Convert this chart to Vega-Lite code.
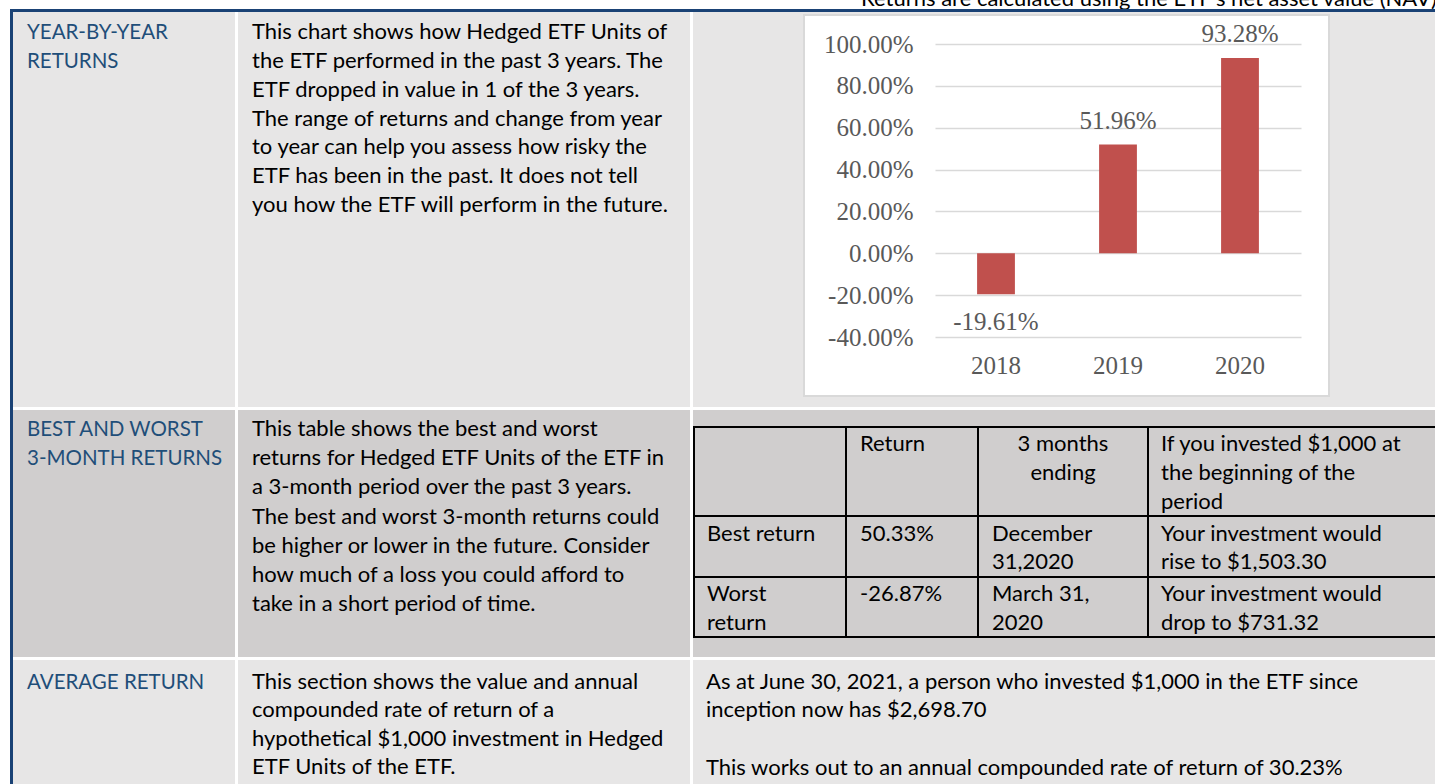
{
  "$schema": "https://vega.github.io/schema/vega-lite/v6.json",
  "background": "white",
  "padding": {"left": 10, "top": 0, "right": 0, "bottom": 0},
  "config": {"view": {"stroke": null}, "text": {"font": "Lato"}},
  "datasets": {
    "doc": [
      {"part": "note", "text": "Returns are calculated using the ETF's net asset value (NAV)"},
      {"part": "r1c1", "text": "YEAR-BY-YEAR\nRETURNS"},
      {"part": "r1c2", "text": "This chart shows how Hedged ETF Units of\nthe ETF performed in the past 3 years. The\nETF dropped in value in 1 of the 3 years.\nThe range of returns and change from year\nto year can help you assess how risky the\nETF has been in the past. It does not tell\nyou how the ETF will perform in the future."},
      {"part": "r2c1", "text": "BEST AND WORST\n3-MONTH RETURNS"},
      {"part": "r2c2", "text": "This table shows the best and worst\nreturns for Hedged ETF Units of the ETF in\na 3-month period over the past 3 years.\nThe best and worst 3-month returns could\nbe higher or lower in the future. Consider\nhow much of a loss you could afford to\ntake in a short period of time."},
      {"part": "r3c1", "text": "AVERAGE RETURN"},
      {"part": "r3c2", "text": "This section shows the value and annual\ncompounded rate of return of a\nhypothetical $1,000 investment in Hedged\nETF Units of the ETF."},
      {"part": "r3c3a", "text": "As at June 30, 2021, a person who invested $1,000 in the ETF since\ninception now has $2,698.70"},
      {"part": "r3c3b", "text": "This works out to an annual compounded rate of return of 30.23%"},
      {"part": "t_h1", "text": " "},
      {"part": "t_h2", "text": "Return"},
      {"part": "t_h3", "text": "3 months\nending"},
      {"part": "t_h4", "text": "If you invested $1,000 at\nthe beginning of the\nperiod"},
      {"part": "t_b1", "text": "Best return"},
      {"part": "t_b2", "text": "50.33%"},
      {"part": "t_b3", "text": "December\n31,2020"},
      {"part": "t_b4", "text": "Your investment would\nrise to $1,503.30"},
      {"part": "t_w1", "text": "Worst\nreturn"},
      {"part": "t_w2", "text": "-26.87%"},
      {"part": "t_w3", "text": "March 31,\n2020"},
      {"part": "t_w4", "text": "Your investment would\ndrop to $731.32"}
    ],
    "returns": [
      {"year": "2018", "ret": -19.61, "label": "-19.61%"},
      {"year": "2019", "ret": 51.96, "label": "51.96%"},
      {"year": "2020", "ret": 93.28, "label": "93.28%"}
    ]
  },
  "spacing": 0,
  "vconcat": [
    {"width": 1425, "height": 9, "data": {"name": "doc"}, "transform": [{"filter": "datum.part === 'note'"}],
     "mark": {"type": "text", "align": "right", "baseline": "alphabetic", "fontSize": 22, "color": "#000000", "clip": true},
     "encoding": {"x": {"value": 1427}, "y": {"value": 5.5}, "text": {"field": "text"}}},
    {"width": 1425, "height": 3, "view": {"fill": "#1a4275"}, "data": {"values": [{}]}, "mark": {"type": "text", "clip": true}, "encoding": {"text": {"value": ""}}},
    {"spacing": 0, "hconcat": [
      {"width": 3, "height": 772, "view": {"fill": "#1a4275"}, "data": {"values": [{}]}, "mark": {"type": "text", "clip": true}, "encoding": {"text": {"value": ""}}},
      {"spacing": 3, "vconcat": [
        {"spacing": 3, "hconcat": [
          {"width": 222, "height": 395, "view": {"fill": "#E7E6E6"}, "data": {"name": "doc"}, "transform": [{"filter": "datum.part === 'r1c1'"}],
           "mark": {"type": "text", "align": "left", "baseline": "alphabetic", "lineBreak": "\n", "lineHeight": 28.8, "fontSize": 20.5, "color": "#1F4E79", "clip": true},
           "encoding": {"x": {"value": 14}, "y": {"value": 27}, "text": {"field": "text"}}},
          {"width": 452, "height": 395, "view": {"fill": "#E7E6E6"}, "data": {"name": "doc"}, "transform": [{"filter": "datum.part === 'r1c2'"}],
           "mark": {"type": "text", "align": "left", "baseline": "alphabetic", "lineBreak": "\n", "lineHeight": 28.8, "fontSize": 22, "color": "#000000", "clip": true},
           "encoding": {"x": {"value": 14}, "y": {"value": 27.3}, "text": {"field": "text"}}},
          {"spacing": 0, "hconcat": [
            {"width": 110, "height": 395, "view": {"fill": "#E7E6E6"}, "data": {"values": [{}]}, "mark": {"type": "text", "clip": true}, "encoding": {"text": {"value": ""}}},
            {"spacing": 0, "vconcat": [
              {"width": 527, "height": 2, "view": {"fill": "#E7E6E6"}, "data": {"values": [{}]}, "mark": {"type": "text", "clip": true}, "encoding": {"text": {"value": ""}}},
              {"width": 527, "height": 2, "view": {"fill": "#D9D9D9"}, "data": {"values": [{}]}, "mark": {"type": "text", "clip": true}, "encoding": {"text": {"value": ""}}},
              {"spacing": 0, "bounds": "flush", "hconcat": [
                {"width": 2, "height": 379, "view": {"fill": "#D9D9D9"}, "data": {"values": [{}]}, "mark": {"type": "text", "clip": true}, "encoding": {"text": {"value": ""}}},
                {"width": 523, "height": 379,
                 "view": {"fill": "white"},
                 "data": {"name": "returns"},
                 "encoding": {
                   "x": {"field": "year", "type": "nominal", "sort": null,
                         "scale": {"range": [130, 496], "paddingInner": 0.69, "paddingOuter": 0.345},
                         "axis": {"orient": "bottom", "offset": -22, "domain": false, "ticks": false, "tickSize": 0, "labelPadding": 0, "labelBaseline": "alphabetic", "labelAngle": 0, "labelFont": "Liberation Serif", "labelFontSize": 25, "labelColor": "#595959", "title": null, "grid": false}}
                 },
                 "layer": [
                   {"mark": {"type": "bar", "color": "#C0504D"},
                    "encoding": {
                      "y": {"field": "ret", "type": "quantitative",
                            "scale": {"domain": [-40, 100], "range": [321, 28], "nice": false, "zero": false},
                            "axis": {"orient": "left", "offset": -108, "domain": false, "ticks": false, "tickSize": 0, "labelPadding": 0,
                                     "values": [-40, -20, 0, 20, 40, 60, 80, 100],
                                     "labelExpr": "(datum.value < 0 ? '-' : '') + format(abs(datum.value), '.2f') + '%'",
                                     "labelFont": "Liberation Serif", "labelFontSize": 25, "labelColor": "#595959", "title": null,
                                     "grid": true, "gridColor": "#d9d9d9", "gridWidth": 1.5}},
                      "y2": {"datum": 0}}},
                   {"transform": [{"filter": "datum.ret >= 0"}],
                    "mark": {"type": "text", "font": "Liberation Serif", "fontSize": 25, "color": "#595959", "baseline": "alphabetic", "align": "center", "dy": -16},
                    "encoding": {"y": {"field": "ret", "type": "quantitative"}, "text": {"field": "label"}}},
                   {"transform": [{"filter": "datum.ret < 0"}],
                    "mark": {"type": "text", "font": "Liberation Serif", "fontSize": 25, "color": "#595959", "baseline": "alphabetic", "align": "center", "dy": 36},
                    "encoding": {"y": {"field": "ret", "type": "quantitative"}, "text": {"field": "label"}}}
                 ]},
                {"width": 2, "height": 379, "view": {"fill": "#D9D9D9"}, "data": {"values": [{}]}, "mark": {"type": "text", "clip": true}, "encoding": {"text": {"value": ""}}}
              ]},
              {"width": 527, "height": 2, "view": {"fill": "#D9D9D9"}, "data": {"values": [{}]}, "mark": {"type": "text", "clip": true}, "encoding": {"text": {"value": ""}}},
              {"width": 527, "height": 10, "view": {"fill": "#E7E6E6"}, "data": {"values": [{}]}, "mark": {"type": "text", "clip": true}, "encoding": {"text": {"value": ""}}}
            ]},
            {"width": 105, "height": 395, "view": {"fill": "#E7E6E6"}, "data": {"values": [{}]}, "mark": {"type": "text", "clip": true}, "encoding": {"text": {"value": ""}}}
          ]}
        ]},
        {"spacing": 3, "hconcat": [
          {"width": 222, "height": 247, "view": {"fill": "#D0CECE"}, "data": {"name": "doc"}, "transform": [{"filter": "datum.part === 'r2c1'"}],
           "mark": {"type": "text", "align": "left", "baseline": "alphabetic", "lineBreak": "\n", "lineHeight": 28.8, "fontSize": 20.5, "color": "#1F4E79", "clip": true},
           "encoding": {"x": {"value": 14}, "y": {"value": 26}, "text": {"field": "text"}}},
          {"width": 452, "height": 247, "view": {"fill": "#D0CECE"}, "data": {"name": "doc"}, "transform": [{"filter": "datum.part === 'r2c2'"}],
           "mark": {"type": "text", "align": "left", "baseline": "alphabetic", "lineBreak": "\n", "lineHeight": 29.2, "fontSize": 22, "color": "#000000", "clip": true},
           "encoding": {"x": {"value": 14}, "y": {"value": 26}, "text": {"field": "text"}}},
          {"spacing": 0, "vconcat": [
            {"width": 742, "height": 16, "view": {"fill": "#D0CECE"}, "data": {"values": [{}]}, "mark": {"type": "text", "clip": true}, "encoding": {"text": {"value": ""}}},
            {"width": 742, "height": 2, "view": {"fill": "#000000"}, "data": {"values": [{}]}, "mark": {"type": "text", "clip": true}, "encoding": {"text": {"value": ""}}},
            {"spacing": 0, "bounds": "flush", "hconcat": [
              {"width": 2, "height": 87, "view": {"fill": "#000000"}, "data": {"values": [{}]}, "mark": {"type": "text", "clip": true}, "encoding": {"text": {"value": ""}}},
              {"width": 150, "height": 87, "view": {"fill": "#D0CECE"}, "data": {"name": "doc"}, "transform": [{"filter": "datum.part === 't_h1'"}],
               "mark": {"type": "text", "align": "left", "baseline": "alphabetic", "lineBreak": "\n", "lineHeight": 28.8, "fontSize": 22, "color": "#000000", "clip": true},
               "encoding": {"x": {"value": 12}, "y": {"value": 23}, "text": {"field": "text"}}},
              {"width": 2, "height": 87, "view": {"fill": "#000000"}, "data": {"values": [{}]}, "mark": {"type": "text", "clip": true}, "encoding": {"text": {"value": ""}}},
              {"width": 130, "height": 87, "view": {"fill": "#D0CECE"}, "data": {"name": "doc"}, "transform": [{"filter": "datum.part === 't_h2'"}],
               "mark": {"type": "text", "align": "left", "baseline": "alphabetic", "lineBreak": "\n", "lineHeight": 28.8, "fontSize": 22, "color": "#000000", "clip": true},
               "encoding": {"x": {"value": 13}, "y": {"value": 23}, "text": {"field": "text"}}},
              {"width": 2, "height": 87, "view": {"fill": "#000000"}, "data": {"values": [{}]}, "mark": {"type": "text", "clip": true}, "encoding": {"text": {"value": ""}}},
              {"width": 168, "height": 87, "view": {"fill": "#D0CECE"}, "data": {"name": "doc"}, "transform": [{"filter": "datum.part === 't_h3'"}],
               "mark": {"type": "text", "align": "center", "baseline": "alphabetic", "lineBreak": "\n", "lineHeight": 28.8, "fontSize": 22, "color": "#000000", "clip": true},
               "encoding": {"x": {"value": 84}, "y": {"value": 23}, "text": {"field": "text"}}},
              {"width": 2, "height": 87, "view": {"fill": "#000000"}, "data": {"values": [{}]}, "mark": {"type": "text", "clip": true}, "encoding": {"text": {"value": ""}}},
              {"width": 286, "height": 87, "view": {"fill": "#D0CECE"}, "data": {"name": "doc"}, "transform": [{"filter": "datum.part === 't_h4'"}],
               "mark": {"type": "text", "align": "left", "baseline": "alphabetic", "lineBreak": "\n", "lineHeight": 28.8, "fontSize": 22, "color": "#000000", "clip": true},
               "encoding": {"x": {"value": 12}, "y": {"value": 23}, "text": {"field": "text"}}}
            ]},
            {"width": 742, "height": 2, "view": {"fill": "#000000"}, "data": {"values": [{}]}, "mark": {"type": "text", "clip": true}, "encoding": {"text": {"value": ""}}},
            {"spacing": 0, "bounds": "flush", "hconcat": [
              {"width": 2, "height": 59, "view": {"fill": "#000000"}, "data": {"values": [{}]}, "mark": {"type": "text", "clip": true}, "encoding": {"text": {"value": ""}}},
              {"width": 150, "height": 59, "view": {"fill": "#D0CECE"}, "data": {"name": "doc"}, "transform": [{"filter": "datum.part === 't_b1'"}],
               "mark": {"type": "text", "align": "left", "baseline": "alphabetic", "lineBreak": "\n", "lineHeight": 28.8, "fontSize": 22, "color": "#000000", "clip": true},
               "encoding": {"x": {"value": 12}, "y": {"value": 23.5}, "text": {"field": "text"}}},
              {"width": 2, "height": 59, "view": {"fill": "#000000"}, "data": {"values": [{}]}, "mark": {"type": "text", "clip": true}, "encoding": {"text": {"value": ""}}},
              {"width": 130, "height": 59, "view": {"fill": "#D0CECE"}, "data": {"name": "doc"}, "transform": [{"filter": "datum.part === 't_b2'"}],
               "mark": {"type": "text", "align": "left", "baseline": "alphabetic", "lineBreak": "\n", "lineHeight": 28.8, "fontSize": 22, "color": "#000000", "clip": true},
               "encoding": {"x": {"value": 13}, "y": {"value": 23.5}, "text": {"field": "text"}}},
              {"width": 2, "height": 59, "view": {"fill": "#000000"}, "data": {"values": [{}]}, "mark": {"type": "text", "clip": true}, "encoding": {"text": {"value": ""}}},
              {"width": 168, "height": 59, "view": {"fill": "#D0CECE"}, "data": {"name": "doc"}, "transform": [{"filter": "datum.part === 't_b3'"}],
               "mark": {"type": "text", "align": "left", "baseline": "alphabetic", "lineBreak": "\n", "lineHeight": 28.8, "fontSize": 22, "color": "#000000", "clip": true},
               "encoding": {"x": {"value": 13}, "y": {"value": 23.5}, "text": {"field": "text"}}},
              {"width": 2, "height": 59, "view": {"fill": "#000000"}, "data": {"values": [{}]}, "mark": {"type": "text", "clip": true}, "encoding": {"text": {"value": ""}}},
              {"width": 286, "height": 59, "view": {"fill": "#D0CECE"}, "data": {"name": "doc"}, "transform": [{"filter": "datum.part === 't_b4'"}],
               "mark": {"type": "text", "align": "left", "baseline": "alphabetic", "lineBreak": "\n", "lineHeight": 28.8, "fontSize": 22, "color": "#000000", "clip": true},
               "encoding": {"x": {"value": 12}, "y": {"value": 23.5}, "text": {"field": "text"}}}
            ]},
            {"width": 742, "height": 2, "view": {"fill": "#000000"}, "data": {"values": [{}]}, "mark": {"type": "text", "clip": true}, "encoding": {"text": {"value": ""}}},
            {"spacing": 0, "bounds": "flush", "hconcat": [
              {"width": 2, "height": 58, "view": {"fill": "#000000"}, "data": {"values": [{}]}, "mark": {"type": "text", "clip": true}, "encoding": {"text": {"value": ""}}},
              {"width": 150, "height": 58, "view": {"fill": "#D0CECE"}, "data": {"name": "doc"}, "transform": [{"filter": "datum.part === 't_w1'"}],
               "mark": {"type": "text", "align": "left", "baseline": "alphabetic", "lineBreak": "\n", "lineHeight": 28.8, "fontSize": 22, "color": "#000000", "clip": true},
               "encoding": {"x": {"value": 12}, "y": {"value": 23}, "text": {"field": "text"}}},
              {"width": 2, "height": 58, "view": {"fill": "#000000"}, "data": {"values": [{}]}, "mark": {"type": "text", "clip": true}, "encoding": {"text": {"value": ""}}},
              {"width": 130, "height": 58, "view": {"fill": "#D0CECE"}, "data": {"name": "doc"}, "transform": [{"filter": "datum.part === 't_w2'"}],
               "mark": {"type": "text", "align": "left", "baseline": "alphabetic", "lineBreak": "\n", "lineHeight": 28.8, "fontSize": 22, "color": "#000000", "clip": true},
               "encoding": {"x": {"value": 13}, "y": {"value": 23}, "text": {"field": "text"}}},
              {"width": 2, "height": 58, "view": {"fill": "#000000"}, "data": {"values": [{}]}, "mark": {"type": "text", "clip": true}, "encoding": {"text": {"value": ""}}},
              {"width": 168, "height": 58, "view": {"fill": "#D0CECE"}, "data": {"name": "doc"}, "transform": [{"filter": "datum.part === 't_w3'"}],
               "mark": {"type": "text", "align": "left", "baseline": "alphabetic", "lineBreak": "\n", "lineHeight": 28.8, "fontSize": 22, "color": "#000000", "clip": true},
               "encoding": {"x": {"value": 13}, "y": {"value": 23}, "text": {"field": "text"}}},
              {"width": 2, "height": 58, "view": {"fill": "#000000"}, "data": {"values": [{}]}, "mark": {"type": "text", "clip": true}, "encoding": {"text": {"value": ""}}},
              {"width": 286, "height": 58, "view": {"fill": "#D0CECE"}, "data": {"name": "doc"}, "transform": [{"filter": "datum.part === 't_w4'"}],
               "mark": {"type": "text", "align": "left", "baseline": "alphabetic", "lineBreak": "\n", "lineHeight": 28.8, "fontSize": 22, "color": "#000000", "clip": true},
               "encoding": {"x": {"value": 12}, "y": {"value": 23}, "text": {"field": "text"}}}
            ]},
            {"width": 742, "height": 2, "view": {"fill": "#000000"}, "data": {"values": [{}]}, "mark": {"type": "text", "clip": true}, "encoding": {"text": {"value": ""}}},
            {"width": 742, "height": 19, "view": {"fill": "#D0CECE"}, "data": {"values": [{}]}, "mark": {"type": "text", "clip": true}, "encoding": {"text": {"value": ""}}}
          ]}
        ]},
        {"spacing": 3, "hconcat": [
          {"width": 222, "height": 124, "view": {"fill": "#E7E6E6"}, "data": {"name": "doc"}, "transform": [{"filter": "datum.part === 'r3c1'"}],
           "mark": {"type": "text", "align": "left", "baseline": "alphabetic", "lineBreak": "\n", "lineHeight": 28.8, "fontSize": 20.5, "color": "#1F4E79", "clip": true},
           "encoding": {"x": {"value": 14}, "y": {"value": 28.5}, "text": {"field": "text"}}},
          {"width": 452, "height": 124, "view": {"fill": "#E7E6E6"}, "data": {"name": "doc"}, "transform": [{"filter": "datum.part === 'r3c2'"}],
           "mark": {"type": "text", "align": "left", "baseline": "alphabetic", "lineBreak": "\n", "lineHeight": 28.6, "fontSize": 22, "color": "#000000", "clip": true},
           "encoding": {"x": {"value": 14}, "y": {"value": 28.7}, "text": {"field": "text"}}},
          {"width": 742, "height": 124, "view": {"fill": "#E7E6E6"}, "data": {"name": "doc"},
           "layer": [
             {"transform": [{"filter": "datum.part === 'r3c3a'"}],
              "mark": {"type": "text", "align": "left", "baseline": "alphabetic", "lineBreak": "\n", "lineHeight": 28.6, "fontSize": 22, "color": "#000000", "clip": true},
              "encoding": {"x": {"value": 13}, "y": {"value": 28.7}, "text": {"field": "text"}}},
             {"transform": [{"filter": "datum.part === 'r3c3b'"}],
              "mark": {"type": "text", "align": "left", "baseline": "alphabetic", "fontSize": 22, "color": "#000000", "clip": true},
              "encoding": {"x": {"value": 13}, "y": {"value": 114.5}, "text": {"field": "text"}}}
           ]}
        ]}
      ]}
    ]}
  ]
}
